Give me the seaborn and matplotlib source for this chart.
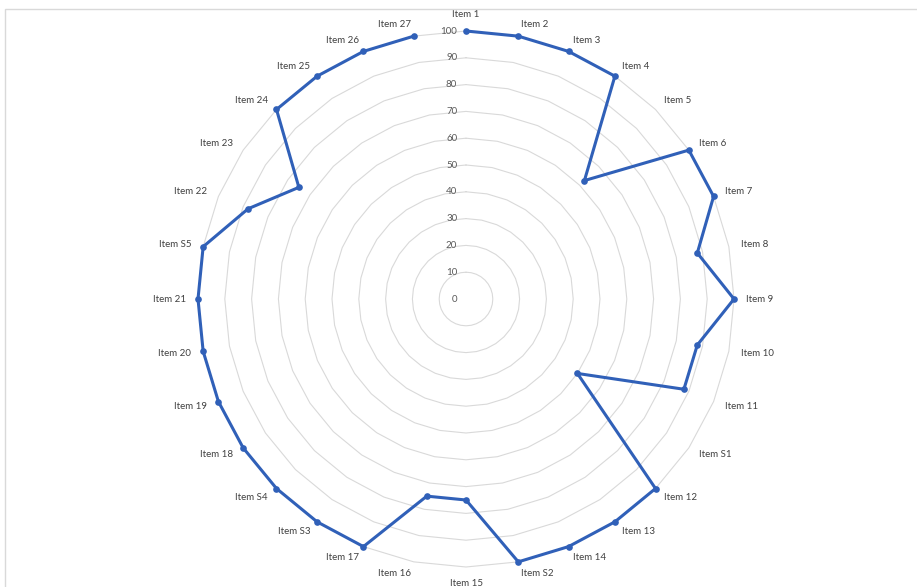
import numpy as np
import pandas as pd
import matplotlib
matplotlib.use("Agg")
import matplotlib.pyplot as plt
import seaborn as sns
from matplotlib.patches import Rectangle

categories = ["Item 1", "Item 2", "Item 3", "Item 4", "Item 5", "Item 6", "Item 7", "Item 8",
              "Item 9", "Item 10", "Item 11", "Item S1", "Item 12", "Item 13", "Item 14", "Item S2",
              "Item 15", "Item 16", "Item 17", "Item S3", "Item S4", "Item 18", "Item 19", "Item 20",
              "Item 21", "Item S5", "Item 22", "Item 23", "Item 24", "Item 25", "Item 26", "Item 27"]
values = [100, 100, 100, 100, 62.5, 100, 100, 88,
          100, 88, 88, 50, 100, 100, 100, 100,
          75, 75, 100, 100, 100, 100, 100, 100,
          100, 100, 88, 75, 100, 100, 100, 100]
rticks = [0, 10, 20, 30, 40, 50, 60, 70, 80, 90, 100]

sns.set_theme(style="white")
plt.rcParams['font.family'] = ['Lato', 'DejaVu Sans']

W, H = 917, 587
fig = plt.figure(figsize=(W / 100, H / 100), dpi=100)
cx, cy, R = 466, 299, 268
ax = fig.add_axes([(cx - R) / W, (H - cy - R) / H, 2 * R / W, 2 * R / H], projection='polar')
ax.set_theta_zero_location('N')
ax.set_theta_direction(-1)

n = len(categories)
theta = np.arange(n) * 2 * np.pi / n
ax.set_ylim(0, 100)
ax.grid(False)
ax.spines['polar'].set_visible(False)
ax.set_xticks([])
ax.set_yticks([])

# polygonal gridlines
th_closed = np.append(theta, theta[0])
for r in rticks[1:]:
    gl, = ax.plot(th_closed, np.full(n + 1, r), color='#d9d9d9', lw=0.8, zorder=1)
    gl.set_clip_on(False)

# radial tick labels
for r in rticks:
    ax.annotate(str(r), xy=(0, r), xytext=(-6.3, 0), textcoords='offset points',
                ha='right', va='center', fontsize=7, color='#595959', zorder=2)

# category labels
for t, lab in zip(theta, categories):
    s, c = np.sin(t), np.cos(t)
    if abs(s) < 0.05:
        ha = 'center'
        va = 'bottom' if c > 0 else 'top'
    else:
        ha = 'left' if s > 0 else 'right'
        va = 'center'
    ax.text(t, 104.5, lab, ha=ha, va=va, fontsize=7, color='#404040', zorder=3)

df = pd.DataFrame({"theta": np.append(theta, theta[0]), "value": values + values[:1]})
sns.lineplot(data=df, x="theta", y="value", sort=False, ax=ax, color='#3060B8',
             lw=2.2, marker='o', markersize=4.8, markeredgewidth=0, zorder=4)
ax.lines[-1].set_clip_on(False)
ax.set_xlabel("")
ax.set_ylabel("")
ax.set_ylim(0, 100)

fig.patches.append(Rectangle((5 / W, -0.1), 1.2, (H - 9) / H + 0.1, fill=False,
                             edgecolor='#d9d9d9', lw=1, transform=fig.transFigure, zorder=0))

fig.savefig("out.png", dpi=100)
